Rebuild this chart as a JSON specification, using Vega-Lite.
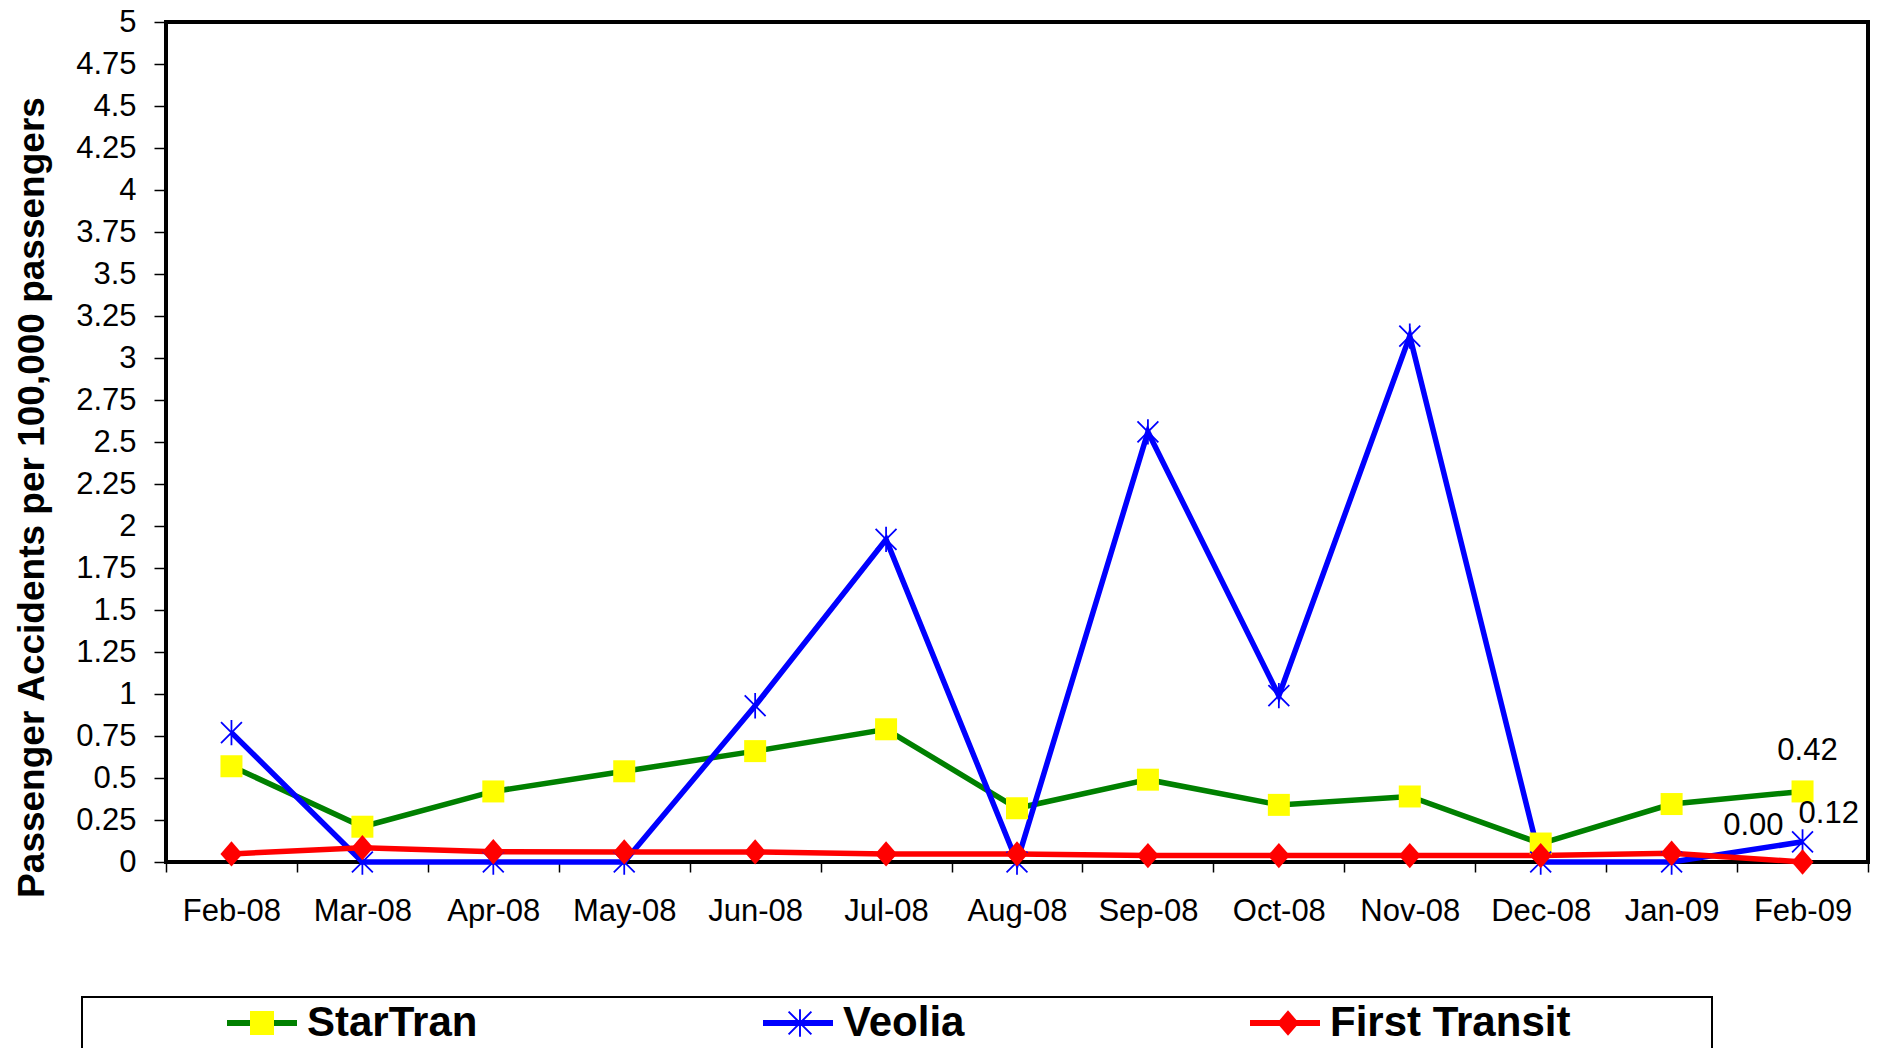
{
  "$schema": "https://vega.github.io/schema/vega-lite/v6.json",
  "autosize": {"type": "none"},
  "padding": {"left": 166, "top": 22, "right": 13, "bottom": 186},
  "width": 1702,
  "height": 840,
  "background": "white",
  "config": {
    "font": "Liberation Sans",
    "view": {"stroke": "black", "strokeWidth": 4},
    "legend": {"strokeWidth": 2}
  },
  "data": {
    "values": [
      {"month": "Feb-08", "series": "StarTran", "value": 0.57},
      {"month": "Mar-08", "series": "StarTran", "value": 0.21},
      {"month": "Apr-08", "series": "StarTran", "value": 0.42},
      {"month": "May-08", "series": "StarTran", "value": 0.54},
      {"month": "Jun-08", "series": "StarTran", "value": 0.66},
      {"month": "Jul-08", "series": "StarTran", "value": 0.79},
      {"month": "Aug-08", "series": "StarTran", "value": 0.32},
      {"month": "Sep-08", "series": "StarTran", "value": 0.49},
      {"month": "Oct-08", "series": "StarTran", "value": 0.34},
      {"month": "Nov-08", "series": "StarTran", "value": 0.39},
      {"month": "Dec-08", "series": "StarTran", "value": 0.11},
      {"month": "Jan-09", "series": "StarTran", "value": 0.345},
      {"month": "Feb-09", "series": "StarTran", "value": 0.42},
      {"month": "Feb-08", "series": "Veolia", "value": 0.77},
      {"month": "Mar-08", "series": "Veolia", "value": 0},
      {"month": "Apr-08", "series": "Veolia", "value": 0},
      {"month": "May-08", "series": "Veolia", "value": 0},
      {"month": "Jun-08", "series": "Veolia", "value": 0.93},
      {"month": "Jul-08", "series": "Veolia", "value": 1.92},
      {"month": "Aug-08", "series": "Veolia", "value": 0},
      {"month": "Sep-08", "series": "Veolia", "value": 2.56},
      {"month": "Oct-08", "series": "Veolia", "value": 0.99},
      {"month": "Nov-08", "series": "Veolia", "value": 3.13},
      {"month": "Dec-08", "series": "Veolia", "value": 0},
      {"month": "Jan-09", "series": "Veolia", "value": 0},
      {"month": "Feb-09", "series": "Veolia", "value": 0.12},
      {"month": "Feb-08", "series": "First Transit", "value": 0.048},
      {"month": "Mar-08", "series": "First Transit", "value": 0.085},
      {"month": "Apr-08", "series": "First Transit", "value": 0.061},
      {"month": "May-08", "series": "First Transit", "value": 0.06},
      {"month": "Jun-08", "series": "First Transit", "value": 0.06},
      {"month": "Jul-08", "series": "First Transit", "value": 0.048},
      {"month": "Aug-08", "series": "First Transit", "value": 0.048},
      {"month": "Sep-08", "series": "First Transit", "value": 0.038},
      {"month": "Oct-08", "series": "First Transit", "value": 0.038},
      {"month": "Nov-08", "series": "First Transit", "value": 0.038},
      {"month": "Dec-08", "series": "First Transit", "value": 0.038},
      {"month": "Jan-09", "series": "First Transit", "value": 0.052},
      {"month": "Feb-09", "series": "First Transit", "value": 0}
    ]
  },
  "encoding": {
    "x": {
      "field": "month",
      "type": "nominal",
      "scale": {
        "type": "band",
        "paddingInner": 0,
        "paddingOuter": 0,
        "domain": ["Feb-08", "Mar-08", "Apr-08", "May-08", "Jun-08", "Jul-08", "Aug-08", "Sep-08", "Oct-08", "Nov-08", "Dec-08", "Jan-09", "Feb-09"]
      },
      "axis": {
        "title": null,
        "domain": false,
        "tickBand": "extent",
        "tickSize": 10,
        "tickWidth": 1.5,
        "tickColor": "black",
        "labelAngle": 0,
        "labelFont": "Liberation Sans",
        "labelFontSize": 31,
        "labelColor": "black",
        "labelPadding": 24,
        "grid": false
      }
    },
    "y": {
      "field": "value",
      "type": "quantitative",
      "scale": {"domain": [0, 5], "nice": false, "zero": true},
      "axis": {
        "title": "Passenger Accidents per 100,000 passengers",
        "titleFont": "Liberation Sans",
        "titleFontSize": 37,
        "titleFontWeight": "bold",
        "titleColor": "black",
        "titleAngle": 270,
        "titleAlign": "center",
        "titleBaseline": "alphabetic",
        "titleX": -123,
        "titleY": 475,
        "domain": false,
        "grid": false,
        "values": [0, 0.25, 0.5, 0.75, 1, 1.25, 1.5, 1.75, 2, 2.25, 2.5, 2.75, 3, 3.25, 3.5, 3.75, 4, 4.25, 4.5, 4.75, 5],
        "labelExpr": "'' + datum.value",
        "tickSize": 12,
        "tickWidth": 1.5,
        "tickColor": "black",
        "labelFont": "Liberation Sans",
        "labelFontSize": 31,
        "labelColor": "black",
        "labelPadding": 18
      }
    }
  },
  "layer": [
    {
      "transform": [{"filter": "datum.series == 'StarTran'"}],
      "mark": {"type": "line", "strokeWidth": 5.5},
      "encoding": {
        "stroke": {
          "field": "series",
          "type": "nominal",
          "scale": {"domain": ["StarTran", "Veolia", "First Transit"], "range": ["#008000", "#0000FF", "#FF0000"]},
          "legend": {
            "orient": "none",
            "legendX": 58,
            "legendY": 980,
            "direction": "horizontal",
            "columns": 3,
            "columnPadding": 282,
            "title": null,
            "labelFont": "Liberation Sans",
            "labelFontSize": 42,
            "labelFontWeight": "bold",
            "labelColor": "black",
            "labelLimit": 0,
            "labelOffset": 7,
            "symbolType": "stroke",
            "symbolSize": 4900,
            "symbolStrokeWidth": 6,
            "clipHeight": 42,
            "padding": 0
          }
        },
        "opacity": {
          "field": "series",
          "type": "ordinal",
          "scale": {"type": "ordinal", "domain": ["StarTran"], "range": [1]},
          "legend": {
            "orient": "none",
            "legendX": -84,
            "legendY": 975,
            "title": null,
            "labelExpr": "''",
            "labelFontSize": 8,
            "labelOffset": 0,
            "symbolType": "stroke",
            "symbolSize": 2656900,
            "symbolStrokeWidth": 0,
            "symbolOpacity": 0,
            "clipHeight": 80,
            "padding": 0,
            "strokeColor": "black"
          }
        }
      }
    },
    {
      "transform": [{"filter": "datum.series == 'Veolia'"}],
      "mark": {"type": "line", "strokeWidth": 5.5},
      "encoding": {"stroke": {"field": "series", "type": "nominal"}}
    },
    {
      "transform": [{"filter": "datum.series == 'First Transit'"}],
      "mark": {"type": "line", "strokeWidth": 5.5},
      "encoding": {"stroke": {"field": "series", "type": "nominal"}}
    },
    {
      "transform": [{"filter": "datum.series == 'StarTran'"}],
      "mark": {"type": "point", "filled": true, "fill": "#FFFF00", "opacity": 1, "strokeWidth": 0, "size": 484},
      "encoding": {
        "shape": {
          "field": "series",
          "type": "nominal",
          "scale": {"range": ["M-1,-1L1,-1L1,1L-1,1Z"]},
          "legend": {
            "orient": "none",
            "legendX": 84,
            "legendY": 989,
            "title": null,
            "labelExpr": "''",
            "labelFontSize": 8,
            "labelOffset": 0,
            "symbolFillColor": "#FFFF00",
            "symbolSize": 576,
            "symbolStrokeWidth": 0,
            "symbolOpacity": 1,
            "padding": 0
          }
        }
      }
    },
    {
      "transform": [{"filter": "datum.series == 'Veolia'"}],
      "mark": {"type": "point", "filled": true, "opacity": 1, "strokeWidth": 0, "size": 484, "shape": "M-0.08,-1.15L0.08,-1.15L0.08,1.15L-0.08,1.15ZM-0.893,-1.007L1.007,0.893L0.893,1.007L-1.007,-0.893ZM-0.893,1.007L-1.007,0.893L0.893,-1.007L1.007,-0.893Z"},
      "encoding": {
        "fill": {
          "field": "series",
          "type": "nominal",
          "scale": {"range": ["#0000FF"]},
          "legend": {
            "orient": "none",
            "legendX": 622,
            "legendY": 989,
            "title": null,
            "labelExpr": "''",
            "labelFontSize": 8,
            "labelOffset": 0,
            "symbolType": "M-0.08,-1.15L0.08,-1.15L0.08,1.15L-0.08,1.15ZM-0.893,-1.007L1.007,0.893L0.893,1.007L-1.007,-0.893ZM-0.893,1.007L-1.007,0.893L0.893,-1.007L1.007,-0.893Z",
            "symbolSize": 576,
            "symbolStrokeWidth": 0,
            "symbolOpacity": 1,
            "padding": 0
          }
        }
      }
    },
    {
      "transform": [{"filter": "datum.series == 'First Transit'"}],
      "mark": {"type": "point", "filled": true, "fill": "#FF0000", "opacity": 1, "strokeWidth": 0, "shape": "M0,-1.15L1,0L0,1.15L-1,0Z"},
      "encoding": {
        "size": {
          "field": "series",
          "type": "ordinal",
          "scale": {"type": "ordinal", "range": [484]},
          "legend": {
            "orient": "none",
            "legendX": 1111,
            "legendY": 990,
            "title": null,
            "labelExpr": "''",
            "labelFontSize": 8,
            "labelOffset": 0,
            "symbolType": "M0,-1.15L1,0L0,1.15L-1,0Z",
            "symbolFillColor": "#FF0000",
            "symbolStrokeWidth": 0,
            "symbolOpacity": 1,
            "padding": 0
          }
        }
      }
    },
    {
      "transform": [{"filter": "datum.series == 'StarTran' && datum.month == 'Feb-09'"}],
      "mark": {"type": "text", "font": "Liberation Sans", "fontSize": 31, "color": "black", "align": "center", "baseline": "alphabetic", "dx": 5, "dy": -31},
      "encoding": {"text": {"field": "value", "type": "quantitative", "format": ".2f"}}
    },
    {
      "transform": [{"filter": "datum.series == 'Veolia' && datum.month == 'Feb-09'"}],
      "mark": {"type": "text", "font": "Liberation Sans", "fontSize": 31, "color": "black", "align": "left", "baseline": "alphabetic", "dx": -4, "dy": -19},
      "encoding": {"text": {"field": "value", "type": "quantitative", "format": ".2f"}}
    },
    {
      "transform": [{"filter": "datum.series == 'First Transit' && datum.month == 'Feb-09'"}],
      "mark": {"type": "text", "font": "Liberation Sans", "fontSize": 31, "color": "black", "align": "right", "baseline": "alphabetic", "dx": -19, "dy": -27},
      "encoding": {"text": {"field": "value", "type": "quantitative", "format": ".2f"}}
    }
  ]
}
